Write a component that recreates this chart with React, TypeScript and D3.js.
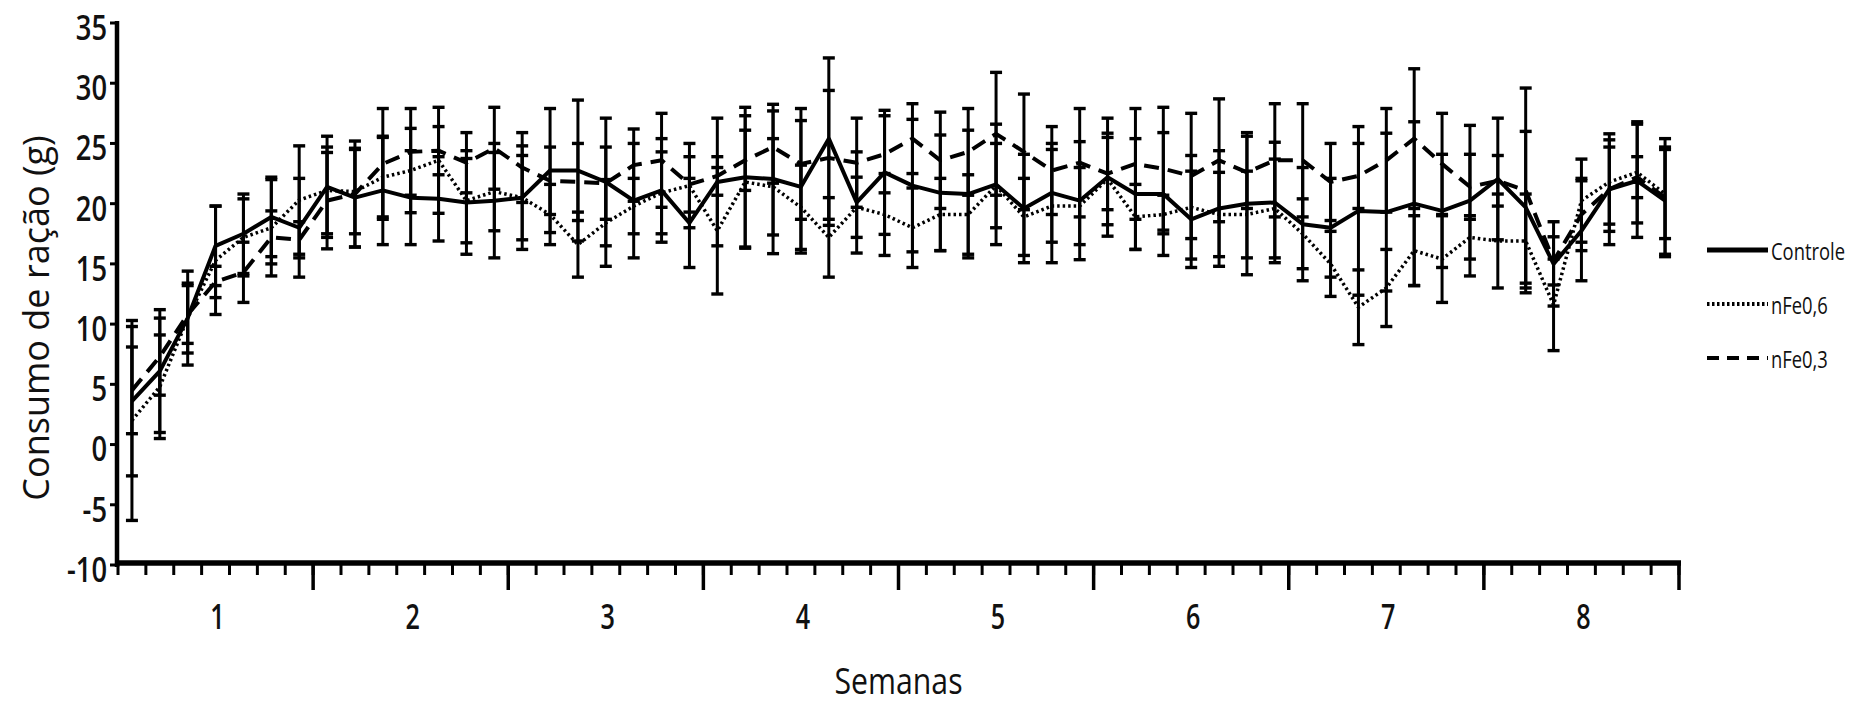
import React from 'react';
import * as d3 from 'd3';

// ---- data ----
const weekLabels = [1, 2, 3, 4, 5, 6, 7, 8];
const yTicks = [-10, -5, 0, 5, 10, 15, 20, 25, 30, 35];
const days = d3.range(56); // 8 weeks x 7 days

const controleMean = [3.6, 6.1, 10.5, 16.5, 17.5, 18.9, 18.0, 21.4, 20.5, 21.1, 20.5, 20.4, 20.1, 20.25, 20.5, 22.75, 22.75, 21.8, 20.25, 21.1, 18.4, 21.8, 22.2, 22.05, 21.4, 25.4, 20.1, 22.6, 21.5, 20.9, 20.8, 21.6, 19.6, 20.9, 20.25, 22.2, 20.8, 20.8, 18.7, 19.6, 20.0, 20.1, 18.3, 18.0, 19.4, 19.3, 20.0, 19.4, 20.25, 22.05, 19.7, 15.0, 17.75, 21.2, 21.9, 20.25];
const controleSD = [6.2, 5.1, 3.9, 3.3, 3.3, 3.3, 4.1, 4.2, 4.1, 4.5, 3.9, 3.5, 4.3, 4.75, 4.3, 5.15, 5.85, 5.3, 4.75, 4.3, 3.7, 5.3, 5.8, 6.2, 5.5, 6.7, 4.2, 5.15, 5.5, 4.8, 5.3, 5.0, 4.5, 4.1, 4.9, 4.9, 4.6, 5.1, 4.0, 4.8, 5.9, 5.0, 4.7, 4.1, 7.0, 6.55, 6.8, 4.7, 6.25, 5.05, 6.3, 3.5, 4.15, 4.6, 4.7, 4.45];

const nfe06Mean = [2.0, 4.8, 10.5, 15.3, 17.2, 18.0, 20.3, 21.1, 21.0, 22.2, 22.75, 23.6, 20.25, 21.0, 20.5, 19.1, 16.6, 18.4, 19.8, 20.9, 21.5, 17.75, 21.8, 21.4, 19.7, 17.2, 19.7, 19.1, 18.0, 19.1, 19.1, 21.5, 18.9, 19.8, 19.8, 22.05, 18.9, 19.1, 19.7, 19.1, 19.1, 19.6, 17.5, 15.0, 11.4, 13.0, 16.1, 15.4, 17.2, 16.9, 16.9, 11.6, 20.25, 21.8, 22.6, 20.8];
const nfe06SD = [8.3, 4.3, 2.9, 4.5, 3.2, 4.0, 4.5, 3.6, 3.5, 3.3, 3.5, 4.4, 3.5, 3.25, 3.5, 2.5, 2.7, 3.6, 2.3, 3.4, 3.5, 5.25, 5.5, 4.0, 3.5, 3.3, 2.5, 3.4, 3.3, 3.0, 3.3, 3.5, 3.2, 4.7, 3.2, 3.8, 2.7, 1.6, 4.3, 3.5, 3.6, 4.1, 2.9, 2.7, 3.1, 3.2, 2.9, 3.6, 1.8, 3.9, 3.9, 3.8, 3.45, 3.5, 4.2, 3.7];

const nfe03Mean = [4.5, 7.3, 10.8, 13.5, 14.3, 17.2, 17.0, 20.25, 20.8, 23.3, 24.3, 24.4, 23.4, 24.6, 23.0, 21.9, 21.8, 21.7, 23.2, 23.6, 21.6, 22.3, 23.6, 24.7, 23.3, 23.8, 23.4, 24.1, 25.4, 23.6, 24.3, 25.8, 24.3, 22.75, 23.4, 22.5, 23.3, 22.9, 22.3, 23.6, 22.6, 23.6, 23.6, 21.8, 22.3, 23.6, 25.4, 23.3, 21.4, 21.9, 21.1, 15.25, 19.1, 21.2, 22.2, 20.5];
const nfe03SD = [3.6, 3.2, 2.4, 1.3, 2.5, 2.2, 1.5, 4.0, 4.4, 4.6, 3.6, 2.0, 2.5, 3.4, 2.9, 2.8, 3.2, 3.0, 3.0, 3.9, 2.3, 1.6, 2.5, 3.0, 4.6, 5.6, 3.7, 3.2, 2.9, 4.0, 3.6, 5.1, 4.8, 3.65, 4.5, 3.0, 4.6, 5.1, 5.2, 5.1, 3.0, 4.7, 4.7, 3.2, 2.7, 4.3, 5.8, 4.2, 2.7, 2.1, 8.5, 2.0, 3.0, 3.5, 1.7, 4.9];

const seriesNames = ['Controle', 'nFe0,6', 'nFe0,3'];

const FONT = "'Open Sans', 'Noto Sans', sans-serif";

export default function App() {
  const W = 1849;
  const H = 704;
  const x = d3.scaleLinear().domain([0.5, 8.5]).range([118, 1679]);
  const y = d3.scaleLinear().domain([-10, 35]).range([565, 23]);
  const dayWeek = (d: number) => 0.5 + (d + 0.5) / 7;

  const series = [
    { name: seriesNames[0], mean: controleMean, sd: controleSD, dash: undefined as string | undefined, width: 4 },
    { name: seriesNames[1], mean: nfe06Mean, sd: nfe06SD, dash: '2.5,3', width: 3.5 },
    { name: seriesNames[2], mean: nfe03Mean, sd: nfe03SD, dash: '15,9', width: 4 },
  ];

  const pathFor = (vals: number[]) =>
    d3
      .line<number>()
      .x((d) => x(dayWeek(d)))
      .y((d) => y(vals[d]))(days) || '';

  const boundaries = d3.range(57).map((i) => 0.5 + i / 7);
  const majorBoundaries = d3.range(1, 9).map((i) => i + 0.5);
  const capHalf = 6;

  const legendY = [250, 304, 358];

  return (
    <svg
      width={W}
      height={H}
      style={{ position: 'absolute', left: 0, top: 0, background: '#fff' }}
    >
      <rect x={0} y={0} width={W} height={H} fill="#fff" />
      {/* error bars */}
      <g stroke="#000" fill="none">
        {series.map((s, si) =>
          days.map((d) => {
            const cx = x(dayWeek(d));
            const top = y(s.mean[d] + s.sd[d]);
            const bot = y(s.mean[d] - s.sd[d]);
            return (
              <g key={`eb-${si}-${d}`}>
                <line x1={cx} x2={cx} y1={top} y2={bot} strokeWidth={3} />
                <line x1={cx - capHalf} x2={cx + capHalf} y1={top} y2={top} strokeWidth={3.4} />
                <line x1={cx - capHalf} x2={cx + capHalf} y1={bot} y2={bot} strokeWidth={3.4} />
              </g>
            );
          })
        )}
      </g>
      {/* lines */}
      <g fill="none" stroke="#000">
        {series.map((s, si) => (
          <path
            key={`ln-${si}`}
            d={pathFor(s.mean)}
            strokeWidth={s.width}
            strokeDasharray={s.dash}
            strokeLinejoin="round"
          />
        ))}
      </g>

      {/* y axis */}
      <g stroke="#000">
        <line x1={117} x2={117} y1={21} y2={567} strokeWidth={4.5} />
        {yTicks.map((t) => (
          <line key={`yt-${t}`} x1={110} x2={117} y1={y(t)} y2={y(t)} strokeWidth={3} />
        ))}
      </g>
      {yTicks.map((t) => (
        <text
          key={`yl-${t}`}
          transform={`translate(107,${y(t) + 3}) scale(0.78,1)`}
          textAnchor="end"
          dominantBaseline="central"
          fontFamily={FONT}
          fontWeight={600}
          fontSize={35}
          fill="#111"
        >
          {t}
        </text>
      ))}

      {/* x axis */}
      <g stroke="#000">
        <line x1={115} x2={1681} y1={563} y2={563} strokeWidth={5.5} />
        {boundaries.map((b, i) => (
          <line key={`xm-${i}`} x1={x(b)} x2={x(b)} y1={563} y2={575} strokeWidth={3} />
        ))}
        {majorBoundaries.map((b) => (
          <line key={`xM-${b}`} x1={x(b)} x2={x(b)} y1={563} y2={590} strokeWidth={3.5} />
        ))}
      </g>
      {weekLabels.map((w) => (
        <text
          key={`xl-${w}`}
          transform={`translate(${x(w) + 2},616) scale(0.74,1)`}
          textAnchor="middle"
          dominantBaseline="central"
          fontFamily={FONT}
          fontWeight={600}
          fontSize={34}
          fill="#111"
        >
          {w}
        </text>
      ))}

      {/* axis titles */}
      <text
        transform={`translate(${x(4.5)},694) scale(0.84,1)`}
        textAnchor="middle"
        fontFamily={FONT}
        fontWeight={500}
        fontSize={36}
        fill="#111"
      >
        Semanas
      </text>
      <text
        transform="translate(35,318) rotate(-90)"
        textAnchor="middle"
        dominantBaseline="central"
        fontFamily={FONT}
        fontWeight={500}
        fontSize={36}
        fill="#111"
      >
        Consumo de ração (g)
      </text>

      {/* legend */}
      {series.map((s, i) => (
        <g key={`lg-${i}`}>
          <line
            x1={1707}
            x2={1768}
            y1={legendY[i]}
            y2={legendY[i]}
            stroke="#000"
            strokeWidth={i === 0 ? 5 : 4}
            strokeDasharray={i === 1 ? '2.5,2.5' : i === 2 ? '12,8' : undefined}
          />
          <text
            transform={`translate(1771,${legendY[i] + 1}) scale(0.8,1)`}
            dominantBaseline="central"
            fontFamily={FONT}
            fontSize={23}
            fill="#111"
          >
            {s.name}
          </text>
        </g>
      ))}
    </svg>
  );
}
